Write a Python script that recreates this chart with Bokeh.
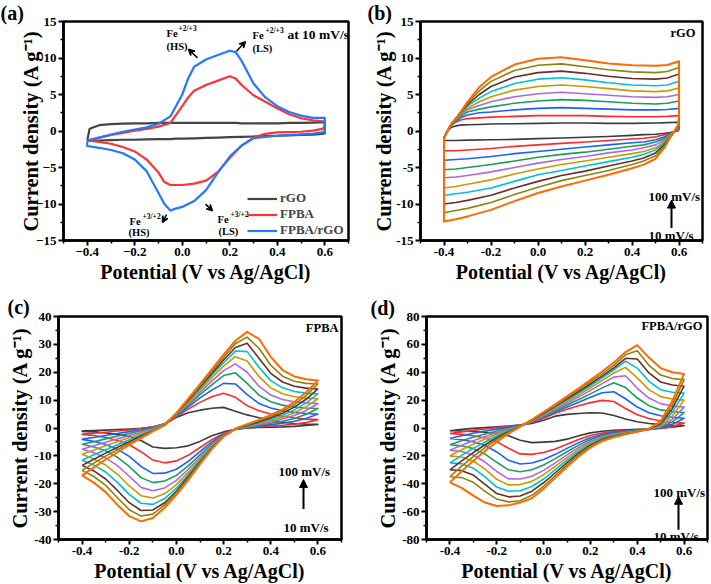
from bokeh.plotting import figure
from bokeh.layouts import column, row
from bokeh.models import (Range1d, FixedTicker, CustomJSTickFormatter, Label, Arrow,
                          NormalHead, VeeHead, Legend, LegendItem, Title)
from bokeh.embed import file_html
from bokeh.resources import INLINE

# ------------------------------------------------------------------ data
scan_rates = ["10", "20", "30", "40", "50", "60", "70", "80", "90", "100"]
rate_colors = ["#3c3c3c", "#ff2a2a", "#1f5fff", "#1b9e5a", "#b068e0",
               "#c89a00", "#00c0d8", "#6a2c2c", "#86860f", "#ff6a00"]

# (a) comparison at 10 mV/s
a_names = ["rGO", "FPBA", "FPBA/rGO"]
a_colors = ["#454545", "#ff3333", "#2378ff"]
a_fwd_x = [-0.4, -0.39, -0.35, -0.3, -0.25, -0.2, -0.15, -0.1, -0.05, 0.0, 0.025, 0.05,
           0.1, 0.15, 0.2, 0.225, 0.25, 0.3, 0.35, 0.4, 0.45, 0.5, 0.55, 0.6]
a_rev_x = [0.6, 0.59, 0.55, 0.5, 0.45, 0.4, 0.35, 0.3, 0.25, 0.2, 0.15, 0.1, 0.05, 0.0,
           -0.025, -0.05, -0.075, -0.1, -0.15, -0.2, -0.25, -0.3, -0.35, -0.4]
a_rgo_fwd = [-1.3, 0.3, 0.8, 0.95, 1.0, 1.05, 1.05, 1.1, 1.1, 1.1, 1.1, 1.1,
             1.1, 1.1, 1.1, 1.1, 1.05, 1.05, 1.05, 1.05, 1.1, 1.1, 1.15, 1.2]
a_rgo_rev = [-0.3, -0.4, -0.5, -0.55, -0.6, -0.65, -0.7, -0.75, -0.8, -0.85, -0.9, -0.95,
             -1.0, -1.05, -1.05, -1.1, -1.1, -1.1, -1.15, -1.2, -1.2, -1.25, -1.3, -1.3]
a_fpba_fwd = [-1.3, -1.2, -0.9, -0.55, -0.25, 0.05, 0.3, 0.6, 1.1, 3.4, 4.6, 5.5,
              6.3, 6.9, 7.5, 7.2, 6.3, 4.9, 4.0, 3.1, 2.3, 1.75, 1.45, 1.3]
a_fpba_rev = [0.6, 0.3, 0.05, -0.1, -0.15, -0.2, -0.4, -0.9, -2.0, -3.7, -5.6, -6.8,
              -7.2, -7.4, -7.4, -7.4, -7.0, -5.7, -3.9, -2.8, -2.2, -1.75, -1.5, -1.3]
a_comp_fwd = [-1.4, -1.3, -0.9, -0.5, -0.1, 0.2, 0.5, 1.0, 2.0, 5.0, 7.2, 8.8,
              9.8, 10.4, 11.0, 10.8, 9.6, 6.5, 4.6, 3.4, 2.6, 2.1, 1.8, 1.8]
a_comp_rev = [-0.1, -0.2, -0.35, -0.45, -0.55, -0.65, -0.8, -1.0, -2.0, -3.5, -5.7, -8.1,
              -9.6, -10.4, -10.6, -10.9, -10.0, -8.5, -5.5, -3.9, -3.05, -2.6, -2.3, -2.05]

# (b) rGO, 10..100 mV/s
b_fwd_x = [-0.4, -0.39, -0.37, -0.35, -0.33, -0.3, -0.25, -0.2, -0.1, 0.0, 0.1, 0.2,
           0.3, 0.4, 0.5, 0.55, 0.6]
b_rev_x = [0.6, 0.595, 0.58, 0.56, 0.54, 0.5, 0.45, 0.4, 0.3, 0.2, 0.1, 0.0,
           -0.1, -0.2, -0.3, -0.35, -0.4]
rgo_fwd = [
    [-1.0, -0.2, 0.5, 0.7, 0.8, 0.85, 0.9, 0.95, 1.0, 1.05, 1.1, 1.1, 1.05, 1.05, 1.1, 1.15, 1.2],
    [-0.9, -0.2, 0.7, 1.2, 1.5, 1.7, 1.8, 1.9, 2.0, 2.1, 2.1, 2.1, 2.0, 1.95, 1.95, 2.0, 2.1],
    [-0.9, -0.2, 0.8, 1.4, 1.8, 2.2, 2.5, 2.6, 2.9, 3.1, 3.2, 3.1, 3.0, 2.9, 2.9, 2.95, 3.1],
    [-0.9, -0.2, 0.8, 1.5, 2.0, 2.6, 3.0, 3.3, 3.8, 4.1, 4.3, 4.2, 4.0, 3.8, 3.7, 3.8, 4.1],
    [-0.9, -0.3, 0.9, 1.6, 2.2, 2.9, 3.5, 4.0, 4.7, 5.1, 5.3, 5.1, 4.9, 4.7, 4.6, 4.7, 5.0],
    [-0.9, -0.3, 0.9, 1.6, 2.3, 3.1, 4.0, 4.7, 5.6, 6.1, 6.3, 6.1, 5.8, 5.5, 5.4, 5.5, 5.9],
    [-0.9, -0.3, 0.9, 1.7, 2.4, 3.4, 4.5, 5.4, 6.5, 7.1, 7.3, 7.0, 6.6, 6.3, 6.2, 6.3, 6.8],
    [-1.0, -0.3, 0.9, 1.7, 2.5, 3.6, 5.0, 6.1, 7.4, 8.0, 8.2, 7.9, 7.5, 7.2, 7.1, 7.25, 7.8],
    [-1.0, -0.3, 0.9, 1.7, 2.5, 3.8, 5.5, 6.8, 8.3, 9.0, 9.2, 8.8, 8.4, 8.1, 8.0, 8.15, 8.7],
    [-1.0, -0.3, 0.9, 1.7, 2.6, 4.0, 6.0, 7.4, 9.1, 9.9, 10.1, 9.7, 9.25, 9.0, 8.95, 9.05, 9.55],
]
rgo_rev = [
    [0.2, 0.0, -0.1, -0.2, -0.3, -0.45, -0.5, -0.6, -0.75, -0.85, -0.95, -1.05, -1.15, -1.2, -1.25, -1.3, -1.3],
    [0.4, 0.0, -0.1, -0.3, -0.5, -0.8, -1.0, -1.1, -1.3, -1.5, -1.7, -1.9, -2.1, -2.4, -2.6, -2.7, -2.7],
    [0.6, 0.1, -0.1, -0.4, -0.8, -1.2, -1.5, -1.6, -1.9, -2.2, -2.5, -2.8, -3.1, -3.5, -3.8, -3.9, -4.0],
    [0.8, 0.2, -0.1, -0.5, -1.0, -1.5, -1.9, -2.1, -2.5, -2.9, -3.2, -3.6, -4.1, -4.6, -5.0, -5.2, -5.3],
    [1.0, 0.3, -0.1, -0.6, -1.2, -1.9, -2.3, -2.6, -3.0, -3.5, -3.9, -4.4, -5.0, -5.6, -6.1, -6.3, -6.4],
    [1.2, 0.4, -0.1, -0.7, -1.4, -2.3, -2.8, -3.1, -3.6, -4.1, -4.6, -5.2, -5.9, -6.7, -7.3, -7.6, -7.8],
    [1.4, 0.5, -0.1, -0.8, -1.6, -2.6, -3.2, -3.6, -4.2, -4.8, -5.4, -6.0, -6.9, -7.8, -8.4, -8.6, -8.8],
    [1.6, 0.6, -0.1, -0.9, -1.8, -3.0, -3.7, -4.1, -4.8, -5.5, -6.1, -6.9, -7.8, -8.8, -9.5, -9.8, -10.0],
    [1.8, 0.7, -0.1, -1.0, -2.0, -3.4, -4.1, -4.6, -5.4, -6.1, -6.8, -7.7, -8.7, -9.8, -10.6, -10.9, -11.2],
    [2.0, 0.8, 0.0, -1.0, -2.2, -3.8, -4.6, -5.1, -6.0, -6.8, -7.6, -8.5, -9.6, -10.8, -11.7, -12.1, -12.4],
]

# (c) FPBA and (d) FPBA/rGO share this potential grid
cd_x = [-0.4, -0.35, -0.3, -0.25, -0.2, -0.15, -0.1, -0.05, 0.0, 0.05, 0.1,
        0.15, 0.2, 0.25, 0.3, 0.35, 0.4, 0.45, 0.5, 0.55, 0.6]
fpba_fwd = [
    [-1.0, -0.9, -0.75, -0.55, -0.35, -0.1, 0.3, 1.3, 3.8, 5.5, 6.4, 7.1, 7.4, 6.0, 4.7, 3.7, 2.8, 2.1, 1.6, 1.4, 1.3],
    [-2.2, -1.9, -1.5, -1.1, -0.7, -0.2, 0.4, 1.5, 4.0, 6.8, 9.2, 11.2, 12.5, 11.0, 8.0, 6.2, 5.0, 4.2, 3.6, 3.2, 3.0],
    [-4.0, -3.4, -2.7, -2.0, -1.3, -0.6, 0.2, 1.5, 4.3, 7.6, 10.8, 13.6, 16.0, 15.8, 12.0, 8.8, 7.2, 6.2, 5.6, 5.2, 5.0],
    [-5.8, -4.9, -3.9, -2.9, -2.0, -1.0, 0.0, 1.5, 4.6, 8.2, 12.0, 15.5, 18.8, 19.8, 16.0, 11.8, 9.4, 8.2, 7.5, 7.2, 7.0],
    [-7.6, -6.4, -5.1, -3.9, -2.7, -1.5, -0.3, 1.4, 4.8, 8.7, 12.8, 16.8, 20.6, 23.0, 20.0, 15.0, 11.8, 10.2, 9.4, 9.0, 8.8],
    [-9.4, -7.9, -6.4, -4.9, -3.4, -2.0, -0.6, 1.3, 5.0, 9.2, 13.6, 18.0, 22.2, 25.6, 24.0, 18.5, 14.4, 12.3, 11.2, 10.7, 10.5],
    [-11.6, -9.6, -7.8, -6.0, -4.2, -2.5, -0.8, 1.2, 5.1, 9.6, 14.2, 18.9, 23.4, 27.6, 27.4, 21.8, 17.0, 14.4, 13.1, 12.5, 12.3],
    [-13.4, -11.2, -9.0, -6.9, -4.9, -2.9, -1.0, 1.1, 5.2, 9.9, 14.7, 19.6, 24.4, 28.9, 30.4, 25.0, 19.6, 16.5, 15.0, 14.3, 14.0],
    [-15.2, -12.6, -10.1, -7.8, -5.5, -3.3, -1.1, 1.0, 5.3, 10.2, 15.2, 20.3, 25.4, 30.2, 32.6, 28.6, 22.5, 18.6, 16.8, 16.0, 15.8],
    [-17.0, -14.1, -11.3, -8.7, -6.1, -3.6, -1.2, 1.0, 5.4, 10.5, 15.7, 21.0, 26.3, 31.3, 34.5, 32.0, 25.5, 20.8, 18.5, 17.5, 17.0],
]
# reverse sweeps listed from 0.6 V back to -0.4 V
fpba_rev = [
    [1.3, 0.9, 0.6, 0.4, 0.3, 0.2, 0.0, -0.5, -1.4, -2.8, -4.8, -6.4, -7.1, -7.3, -6.8, -4.5, -3.0, -2.3, -1.8, -1.4, -1.2],
    [3.0, 2.0, 1.4, 1.0, 0.7, 0.4, 0.1, -0.5, -2.0, -4.2, -7.0, -9.8, -11.8, -12.5, -11.5, -8.5, -6.0, -4.5, -3.4, -2.7, -2.3],
    [5.0, 3.4, 2.4, 1.7, 1.2, 0.7, 0.2, -0.4, -2.3, -5.0, -8.5, -12.0, -14.8, -16.2, -16.3, -13.8, -10.2, -7.6, -5.9, -4.8, -4.1],
    [7.0, 4.9, 3.4, 2.4, 1.7, 1.0, 0.3, -0.4, -2.5, -5.7, -9.6, -13.6, -17.0, -19.0, -19.6, -17.8, -13.8, -10.5, -8.2, -6.8, -5.8],
    [8.8, 6.3, 4.5, 3.2, 2.2, 1.3, 0.5, -0.4, -2.6, -6.1, -10.4, -14.8, -18.8, -21.5, -22.5, -21.3, -17.3, -13.5, -10.7, -8.9, -7.6],
    [10.5, 7.6, 5.5, 3.9, 2.7, 1.6, 0.6, -0.4, -2.7, -6.5, -11.1, -15.9, -20.3, -23.6, -25.1, -24.3, -20.8, -16.6, -13.3, -11.1, -9.4],
    [12.3, 9.0, 6.5, 4.6, 3.2, 1.9, 0.7, -0.4, -2.8, -6.8, -11.7, -16.8, -21.6, -25.3, -27.4, -27.0, -23.8, -19.5, -15.8, -13.3, -11.6],
    [14.0, 10.3, 7.5, 5.3, 3.7, 2.2, 0.9, -0.3, -2.9, -7.1, -12.2, -17.5, -22.6, -26.8, -29.4, -29.6, -26.8, -22.4, -18.3, -15.4, -13.4],
    [15.8, 11.6, 8.4, 6.0, 4.2, 2.6, 1.2, -0.3, -3.0, -7.3, -12.6, -18.1, -23.2, -27.6, -30.9, -31.6, -29.3, -25.0, -20.6, -17.4, -15.2],
    [17.0, 12.8, 9.3, 6.7, 4.7, 2.9, 1.4, -0.2, -3.1, -7.6, -13.0, -18.7, -24.0, -28.6, -32.3, -33.5, -31.6, -27.6, -23.0, -19.6, -17.0],
]
comp_fwd = [
    [-2.0, -1.0, -0.3, 0.3, 0.8, 1.4, 2.2, 3.2, 5.5, 8.5, 9.8, 10.4, 10.9, 10.8, 9.0, 6.5, 4.5, 3.2, 2.4, 1.9, 1.6],
    [-4.0, -2.8, -1.7, -0.7, 0.3, 1.2, 2.2, 4.0, 7.0, 10.5, 13.5, 16.0, 18.2, 19.8, 19.0, 14.0, 9.5, 6.8, 5.0, 4.0, 3.5],
    [-7.5, -5.6, -3.8, -2.2, -0.8, 0.6, 2.0, 4.3, 7.8, 11.5, 15.0, 18.5, 22.0, 25.3, 26.0, 21.0, 15.0, 11.0, 8.8, 7.6, 7.0],
    [-12.0, -9.2, -6.6, -4.3, -2.2, -0.3, 1.6, 4.5, 8.5, 12.5, 16.5, 20.5, 24.5, 28.8, 32.5, 29.0, 21.5, 16.0, 13.0, 11.8, 11.0],
    [-16.0, -12.4, -9.1, -6.1, -3.4, -0.9, 1.5, 4.7, 9.0, 13.4, 17.8, 22.3, 27.0, 31.8, 36.5, 37.5, 28.5, 21.5, 17.5, 15.8, 15.0],
    [-20.0, -15.6, -11.6, -7.9, -4.5, -1.4, 1.4, 5.0, 9.5, 14.2, 19.0, 23.8, 28.8, 34.0, 39.5, 43.5, 36.0, 27.5, 22.5, 20.8, 20.0],
    [-25.0, -19.6, -14.6, -10.0, -5.8, -2.0, 1.3, 5.3, 10.0, 15.0, 20.0, 25.0, 30.3, 35.8, 41.8, 48.0, 43.0, 33.5, 27.5, 25.6, 25.0],
    [-30.0, -23.6, -17.6, -12.0, -7.0, -2.6, 1.2, 5.6, 10.5, 15.7, 21.0, 26.2, 31.6, 37.2, 43.2, 50.0, 49.5, 39.5, 33.0, 30.8, 30.0],
    [-35.0, -27.4, -20.5, -14.0, -8.2, -3.2, 1.2, 5.8, 11.0, 16.3, 21.8, 27.3, 33.0, 38.8, 45.0, 52.5, 55.5, 45.0, 38.0, 35.5, 34.5],
    [-39.0, -31.0, -23.5, -16.5, -9.8, -4.0, 1.0, 6.0, 11.5, 17.0, 22.8, 28.5, 34.5, 40.5, 47.0, 54.5, 59.5, 50.5, 43.0, 40.0, 38.8],
]
comp_rev = [
    [1.6, 0.6, 0.0, -0.6, -1.0, -1.3, -1.7, -2.3, -3.5, -5.5, -8.0, -9.6, -10.1, -10.5, -8.8, -5.6, -3.8, -3.0, -2.5, -2.2, -2.0],
    [3.5, 1.0, -0.3, -1.0, -1.5, -2.0, -2.6, -3.6, -5.4, -8.2, -11.7, -15.0, -17.6, -18.9, -18.6, -14.5, -9.8, -7.2, -5.6, -4.6, -4.0],
    [7.0, 2.6, 0.1, -1.0, -1.7, -2.4, -3.3, -4.6, -7.0, -10.5, -14.6, -18.9, -22.6, -25.1, -25.8, -23.2, -17.2, -12.6, -9.9, -8.4, -7.5],
    [11.0, 4.4, 0.5, -1.0, -1.9, -2.8, -3.9, -5.5, -8.3, -12.3, -17.0, -22.0, -26.6, -30.0, -31.4, -30.0, -24.6, -18.8, -14.8, -12.8, -12.0],
    [15.0, 6.4, 1.0, -1.0, -2.1, -3.2, -4.5, -6.3, -9.5, -14.0, -19.3, -25.0, -30.4, -34.6, -36.6, -36.5, -31.2, -24.4, -19.4, -16.8, -16.0],
    [20.0, 8.8, 1.6, -0.9, -2.3, -3.5, -5.0, -7.0, -10.5, -15.5, -21.3, -27.5, -33.5, -38.3, -40.6, -40.8, -36.8, -29.5, -23.8, -20.8, -20.0],
    [25.0, 11.4, 2.2, -0.8, -2.4, -3.8, -5.4, -7.6, -11.4, -16.8, -23.1, -29.9, -36.6, -42.0, -45.0, -45.4, -42.4, -35.0, -28.8, -25.7, -25.0],
    [30.0, 14.0, 3.0, -0.7, -2.5, -4.1, -5.8, -8.2, -12.3, -18.1, -24.8, -32.1, -39.3, -45.3, -48.8, -49.4, -47.0, -40.4, -33.8, -30.6, -30.0],
    [34.5, 16.8, 3.8, -0.6, -2.6, -4.3, -6.2, -8.8, -13.1, -19.2, -26.4, -34.1, -41.8, -48.3, -52.2, -53.0, -51.0, -45.5, -39.0, -35.6, -35.0],
    [38.8, 19.5, 4.8, -0.5, -2.7, -4.5, -6.6, -9.4, -14.0, -20.4, -27.8, -35.8, -43.6, -50.4, -53.5, -55.5, -56.0, -53.5, -48.5, -43.0, -39.0],
]

# ------------------------------------------------------------------ styling helpers
FONT = "Liberation Serif"
# frame geometry of each panel in page pixels: left, right, top, bottom, y-min, y-max
FRAMES = {"a": (63, 348, 11, 240, -15, 15), "b": (420, 702, 13.5, 241, -15, 15),
          "c": (58, 341, 312, 539, -40, 40), "d": (426, 707, 314, 541, -80, 80)}
ORIGIN = {"a": (0, 0), "b": (355, 0), "c": (0, 290), "d": (355, 290)}
SIZE = {"a": (355, 290), "b": (356, 290), "c": (355, 294), "d": (356, 294)}


def to_data(panel, X, Y):
    L, R, T, B, y0, y1 = FRAMES[panel]
    return -0.5 + (X - L) / (R - L) * 1.2, y1 - (Y - T) / (B - T) * (y1 - y0)


def make_panel(panel, ymaj, letter, letter_x, letter_standoff, spacer_standoff,
               unicode_minus=False, label_standoff=0):
    L, R, T, B, y0, y1 = FRAMES[panel]
    ox, oy = ORIGIN[panel]
    w, h = SIZE[panel]
    p = figure(width=w, height=h, x_range=Range1d(-0.5, 0.7), y_range=Range1d(y0, y1),
               output_backend="svg", toolbar_location=None,
               min_border_left=int(round(L - ox)), min_border_right=int(round(ox + w - R)),
               min_border_top=int(round(T - oy)), min_border_bottom=int(round(oy + h - B)))
    # built-in title: a tiny white strip that only sets the gap above the letter
    p.title.text = "."
    p.title.text_font = FONT
    p.title.text_font_size = "2px"
    p.title.text_color = "white"
    p.title.standoff = spacer_standoff
    # panel letter in the top-left corner
    p.add_layout(Title(text=letter, text_font=FONT, text_font_style="bold",
                       text_font_size="20px", text_color="black", align="left",
                       vertical_align="top", offset=letter_x - L,
                       standoff=letter_standoff), "above")
    p.xgrid.visible = False
    p.ygrid.visible = False
    p.background_fill_color = "white"
    p.border_fill_color = "white"
    p.outline_line_color = "black"
    p.outline_line_width = 2.5
    p.outline_line_alpha = 1.0
    p.xaxis.ticker = FixedTicker(ticks=[-0.4, -0.2, 0.0, 0.2, 0.4, 0.6],
                                 minor_ticks=[-0.5, -0.3, -0.1, 0.1, 0.3, 0.5, 0.7])
    majors = []
    v = y0
    while v <= y1 + 1e-9:
        majors.append(v)
        v += ymaj
    minors = [m + ymaj / 2 for m in majors[:-1]]
    p.yaxis.ticker = FixedTicker(ticks=majors, minor_ticks=minors)
    minus = "\u2212" if unicode_minus else "-"
    p.xaxis.formatter = CustomJSTickFormatter(
        code="return (tick < -1e-9 ? '%s' : '') + Math.abs(tick).toFixed(1);" % minus)
    p.yaxis.formatter = CustomJSTickFormatter(
        code="return (tick < -1e-9 ? '%s' : '') + Math.abs(tick).toFixed(0);" % minus)
    for ax in (p.xaxis[0], p.yaxis[0]):
        ax.axis_line_width = 2.5
        ax.major_tick_line_width = 2
        ax.minor_tick_line_width = 1.5
        ax.major_tick_out = 5
        ax.major_tick_in = 0
        ax.minor_tick_out = 3
        ax.minor_tick_in = 0
        ax.major_label_text_font = FONT
        ax.major_label_text_font_style = "bold"
        ax.major_label_text_font_size = "13px"
        ax.major_label_text_color = "black"
        ax.major_label_standoff = 2
        ax.axis_label_text_font = FONT
        ax.axis_label_text_font_style = "bold"
        ax.axis_label_text_color = "black"
    p.xaxis.axis_label = "Potential (V vs Ag/AgCl)"
    p.xaxis.axis_label_text_font_size = "20px"
    p.xaxis.axis_label_standoff = 2
    p.yaxis.axis_label = "Current density (A g\u207b\u00b9)"
    p.yaxis.axis_label_text_font_size = "20.5px"
    p.yaxis.axis_label_standoff = label_standoff
    return p


def add_text(p, panel, X, Y, text, size, align="left", baseline="top"):
    x, y = to_data(panel, X, Y)
    p.add_layout(Label(x=x, y=y, text=text, text_font=FONT, text_font_style="bold",
                       text_font_size="%gpx" % size, text_align=align,
                       text_baseline=baseline, text_color="black"))


def add_arrow(p, panel, X0, Y0, X1, Y1, head="vee", width=1.5, size=6):
    x0, y0 = to_data(panel, X0, Y0)
    x1, y1 = to_data(panel, X1, Y1)
    if head == "vee":
        h = VeeHead(size=size, line_width=width, line_color="black", fill_color="black")
    else:
        h = NormalHead(size=size, line_color="black", fill_color="black", line_width=1)
    p.add_layout(Arrow(x_start=x0, y_start=y0, x_end=x1, y_end=y1, end=h,
                       line_width=width, line_color="black"))


def loop(fx, fy, rx, ry):
    return list(fx) + list(rx) + [fx[0]], list(fy) + list(ry) + [fy[0]]


# ------------------------------------------------------------------ panel (a)
pa = make_panel("a", 5, "(a)", 0, -8, 1, unicode_minus=True, label_standoff=-9)
items = []
for name, col, fw, rv in zip(a_names, a_colors, [a_rgo_fwd, a_fpba_fwd, a_comp_fwd],
                             [a_rgo_rev, a_fpba_rev, a_comp_rev]):
    xs, ys = loop(a_fwd_x, fw, a_rev_x, rv)
    r = pa.line(xs, ys, line_color=col, line_width=2.2, line_join="round")
    items.append(LegendItem(label=name, renderers=[r]))
leg = Legend(items=items, location=(184, 2), glyph_width=30, glyph_height=15,
             label_height=15, spacing=0, padding=0, margin=0, label_standoff=3,
             label_text_font=FONT, label_text_font_style="bold", label_text_font_size="13px",
             border_line_alpha=0, background_fill_alpha=0)
pa.add_layout(leg)
add_text(pa, "a", 166, 18, "Fe", 10.5)
add_text(pa, "a", 178, 14, "+2/+3", 7.5)
add_text(pa, "a", 166, 31, "(HS)", 10.5)
add_text(pa, "a", 252, 20, "Fe", 10.5)
add_text(pa, "a", 265, 16, "+2/+3", 7.5)
add_text(pa, "a", 252, 33, "(LS)", 10.5)
add_text(pa, "a", 287, 17, "at 10 mV/s", 13.5)
add_text(pa, "a", 129, 214, "Fe", 10.5)
add_text(pa, "a", 142, 210, "+3/+2", 7.5)
add_text(pa, "a", 128, 226, "(HS)", 10.5)
add_text(pa, "a", 217, 212, "Fe", 10.5)
add_text(pa, "a", 230, 208, "+3/+2", 7.5)
add_text(pa, "a", 218, 225, "(LS)", 10.5)
add_arrow(pa, "a", 197, 49, 188, 40)
add_arrow(pa, "a", 236, 42, 245, 32)
add_arrow(pa, "a", 166, 213, 162, 221)
add_arrow(pa, "a", 205, 202, 212, 209)

# ------------------------------------------------------------------ panel (b)
pb = make_panel("b", 5, "(b)", 367, -8, 2, label_standoff=-2)
for k in range(10):
    xs, ys = loop(b_fwd_x, rgo_fwd[k], b_rev_x, rgo_rev[k])
    pb.line(xs, ys, line_color=rate_colors[k], line_width=2.0 if k == 9 else 1.6,
            line_join="round")
add_text(pb, "b", 695, 18, "rGO", 12.5, align="right")
add_text(pb, "b", 648, 188, "100 mV/s", 13)
add_text(pb, "b", 648, 228, "10 mV/s", 13)
add_arrow(pb, "b", 671, 228, 671, 199, head="normal", width=2, size=8)

# ------------------------------------------------------------------ panel (c)
pc = make_panel("c", 10, "(c)", 7, -7, 5)
rev_x = cd_x[::-1]
for k in range(10):
    xs, ys = loop(cd_x, fpba_fwd[k], rev_x, fpba_rev[k])
    pc.line(xs, ys, line_color=rate_colors[k], line_width=2.0 if k == 9 else 1.6,
            line_join="round")
add_text(pc, "c", 338, 317, "FPBA", 12.5, align="right")
add_text(pc, "c", 278, 462, "100 mV/s", 13)
add_text(pc, "c", 283, 519, "10 mV/s", 13)
add_arrow(pc, "c", 303, 508, 303, 478, head="normal", width=2, size=8)

# ------------------------------------------------------------------ panel (d)
pd = make_panel("d", 20, "(d)", 370, -9, 8)
for k in range(10):
    xs, ys = loop(cd_x, comp_fwd[k], rev_x, comp_rev[k])
    pd.line(xs, ys, line_color=rate_colors[k], line_width=2.0 if k == 9 else 1.6,
            line_join="round")
add_text(pd, "d", 702, 317, "FPBA/rGO", 12.5, align="right")
add_text(pd, "d", 653, 486, "100 mV/s", 13)
add_text(pd, "d", 653, 530, "10 mV/s", 13)
add_arrow(pd, "d", 678, 531, 678, 497, head="normal", width=2, size=8)

layout = column(row(pa, pb), row(pc, pd))
open("out.html", "w").write(file_html(layout, INLINE))
